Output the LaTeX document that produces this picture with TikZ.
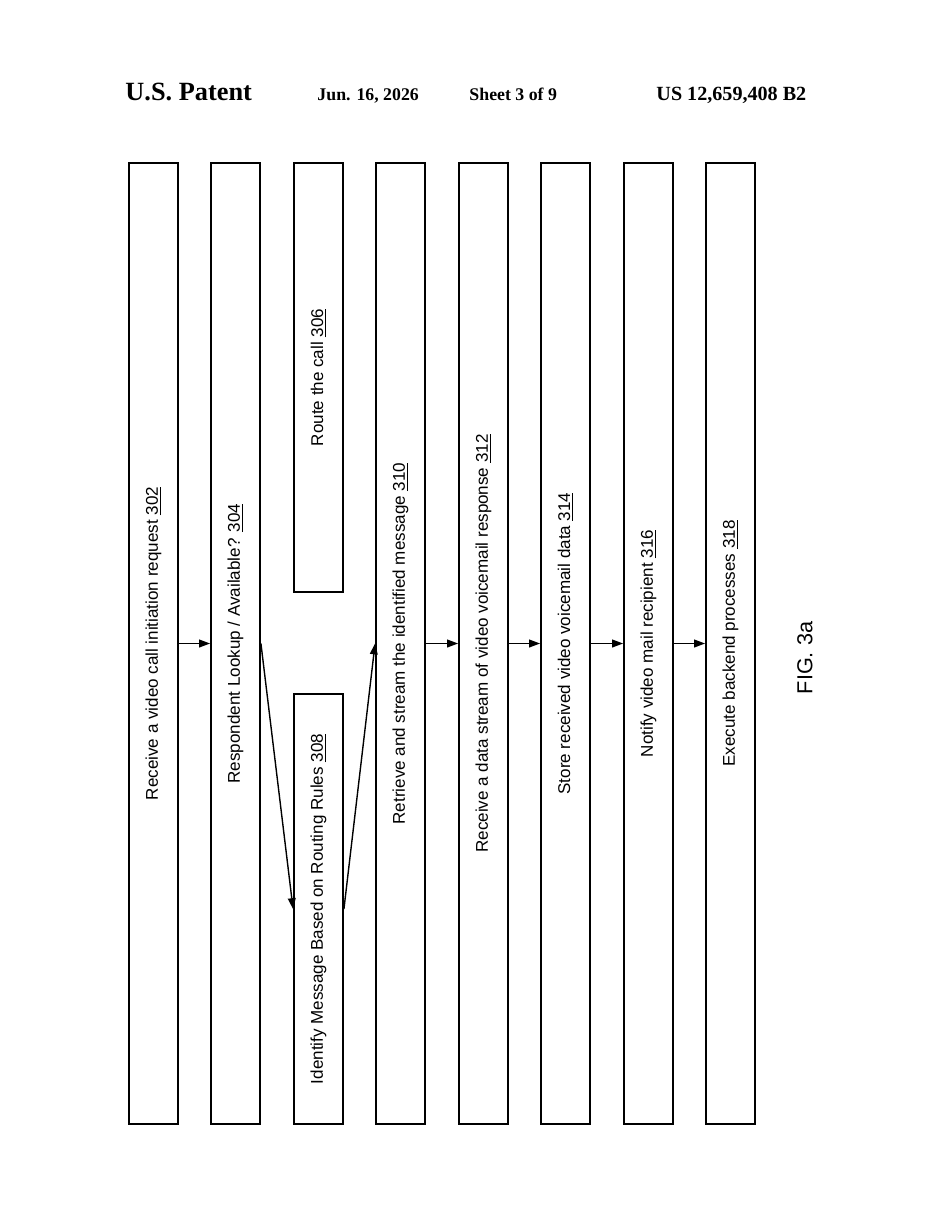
\documentclass[tikz,border=0pt]{standalone}
\usepackage{fontspec}
\setmainfont{Liberation Serif}
\newfontfamily\flowfont{Liberation Sans}
\usetikzlibrary{arrows.meta}
\tikzset{
  flowbox/.style={draw, line width=1.2pt, rotate=90, minimum height=49*0.0227cm,
    inner sep=0pt, font=\flowfont\fontsize{11}{13}\selectfont},
  flow/.style={-{Triangle[length=7pt,width=5pt]}, line width=0.9pt},
  head/.style={font=\bfseries\fontsize{11.5}{13}\selectfont, anchor=base west}
}
\newcommand{\refnum}[1]{\underline{#1}}
\begin{document}
\begin{tikzpicture}[x=0.0227cm,y=-0.0227cm]
  \useasboundingbox (0,0) rectangle (949,1228);
  % header
  \node[head, font=\bfseries\fontsize{17}{19}\selectfont] (hpat) at (120,100) {U.S. Patent};
  \node[head] (hdate) at (312,100) {Jun. 16, 2026};
  \node[head] (hsheet) at (464,100) {Sheet 3 of 9};
  \node[head, font=\bfseries\fontsize{13}{15}\selectfont] (hnum) at (651,100) {US 12,659,408 B2};
  % steps
  \node[flowbox, minimum width=961*0.0227cm] (s302) at (153.5,643.5) {Receive a video call initiation request \refnum{302}};
  \node[flowbox, minimum width=961*0.0227cm] (s304) at (235.5,643.5) {Respondent Lookup / Available? \refnum{304}};
  \node[flowbox, minimum width=429*0.0227cm] (s306) at (318.5,377.5) {Route the call \refnum{306}};
  \node[flowbox, minimum width=430*0.0227cm] (s308) at (318.5,909) {Identify Message Based on Routing Rules \refnum{308}};
  \node[flowbox, minimum width=961*0.0227cm] (s310) at (400.5,643.5) {Retrieve and stream the identified message \refnum{310}};
  \node[flowbox, minimum width=961*0.0227cm] (s312) at (483.5,643.5) {Receive a data stream of video voicemail response \refnum{312}};
  \node[flowbox, minimum width=961*0.0227cm] (s314) at (565.5,643.5) {Store received video voicemail data \refnum{314}};
  \node[flowbox, minimum width=961*0.0227cm] (s316) at (648.5,643.5) {Notify video mail recipient \refnum{316}};
  \node[flowbox, minimum width=961*0.0227cm] (s318) at (730.5,643.5) {Execute backend processes \refnum{318}};
  % connectors
  \draw[flow] (s302.south) -- (s304.north);
  \draw[flow] (s304.south) -- (s308.north);
  \draw[flow] (s308.south) -- (s310.north);
  \foreach \a/\b in {310/312,312/314,314/316,316/318}
    \draw[flow] (s\a.south) -- (s\b.north);
  \node[rotate=90, font=\flowfont\fontsize{14}{16}\selectfont] (fig) at (805,658) {FIG. 3a};
\end{tikzpicture}
\end{document}
